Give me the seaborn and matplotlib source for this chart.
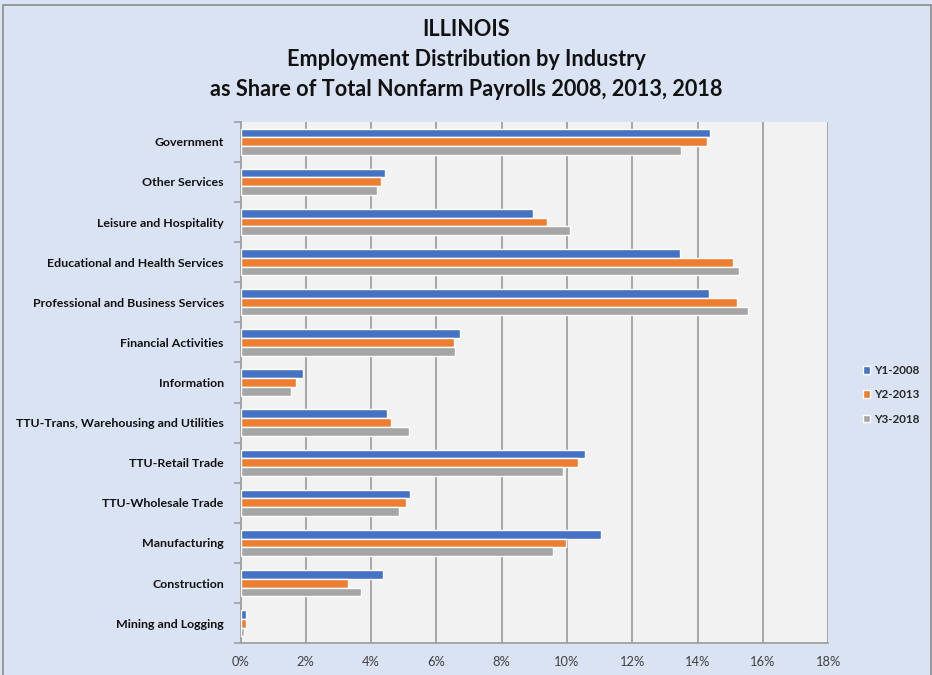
import pandas as pd
import seaborn as sns
import matplotlib.pyplot as plt
from matplotlib.patches import Patch, Rectangle
from matplotlib.ticker import FuncFormatter, FixedLocator

# industries, top to bottom as in the chart
industries = ['Government', 'Other Services', 'Leisure and Hospitality',
              'Educational and Health Services', 'Professional and Business Services',
              'Financial Activities', 'Information', 'TTU-Trans, Warehousing and Utilities',
              'TTU-Retail Trade', 'TTU-Wholesale Trade', 'Manufacturing',
              'Construction', 'Mining and Logging']
years = ['Y1-2008', 'Y2-2013', 'Y3-2018']

# share of total nonfarm payrolls (%)
y2008 = [14.37, 4.44, 8.96, 13.46, 14.34, 6.72, 1.92, 4.49, 10.56, 5.20, 11.04, 4.35, 0.16]
y2013 = [14.28, 4.29, 9.40, 15.08, 15.21, 6.53, 1.70, 4.61, 10.34, 5.07, 9.97, 3.28, 0.16]
y2018 = [13.49, 4.17, 10.09, 15.27, 15.55, 6.57, 1.54, 5.15, 9.87, 4.85, 9.58, 3.69, 0.12]

xticks = [0, 2, 4, 6, 8, 10, 12, 14, 16, 18]
colors = ['#4472c4', '#ed7d31', '#a5a5a5']

df = pd.DataFrame({'industry': industries * 3,
                   'share': y2008 + y2013 + y2018,
                   'year': [y for y in years for _ in industries]})

sns.set_theme(style='white')
plt.rcParams['font.family'] = ['Lato', 'DejaVu Sans']

fig = plt.figure(figsize=(9.32, 6.75), dpi=100)
fig.patch.set_facecolor('#dae3f3')
fig.patches.append(Rectangle((3 / 932, -0.05), 928 / 932, 1.05 - 5 / 675,
                             transform=fig.transFigure, fill=False,
                             edgecolor='#8c8c8c', linewidth=1.2))

ax = fig.add_axes([240.5 / 932, 1 - 643.3 / 675, 587.8 / 932, 521.6 / 675])
ax.set_facecolor('#f2f2f2')

sns.barplot(data=df, y='industry', x='share', hue='year', orient='h',
            palette=colors, saturation=1, width=0.66, order=industries,
            hue_order=years, legend=False, ax=ax, zorder=3)

ax.set_xlim(0, 18)
ax.set_ylim(12.5, -0.5)
ax.xaxis.set_major_locator(FixedLocator(xticks))
ax.xaxis.set_major_formatter(FuncFormatter(lambda v, p: f'{v:.0f}%'))
ax.grid(axis='x', color='#a0a0a0', linewidth=1.3, zorder=0)
ax.set_axisbelow(True)
ax.set_xlabel('')
ax.set_ylabel('')

for s in ['top', 'right']:
    ax.spines[s].set_visible(False)
for s in ['left', 'bottom']:
    ax.spines[s].set_color('#a0a0a0')
    ax.spines[s].set_linewidth(1.3)

ax.tick_params(axis='x', length=4, color='#a0a0a0', labelsize=9.3,
               labelcolor='#404040', pad=5)
ax.tick_params(axis='y', which='major', length=0, pad=12, labelsize=8.9,
               labelcolor='#111111')
for lbl in ax.get_yticklabels():
    lbl.set_fontweight('bold')
ax.set_yticks([i + 0.5 for i in range(-1, 13)], minor=True)
ax.tick_params(axis='y', which='minor', left=True, length=5, color='#a0a0a0', width=1.2)

title_lines = ['ILLINOIS', 'Employment Distribution by Industry',
               'as Share of Total Nonfarm Payrolls 2008, 2013, 2018']
for i, line in enumerate(title_lines):
    fig.text(0.5, 1 - (30 + 30 * i) / 675, line, ha='center', va='center',
             fontsize=15.6, fontweight='bold', color='#111111')

handles = [Patch(facecolor=c, label=y) for c, y in zip(colors, years)]
leg = fig.legend(handles=handles, loc='upper left',
                 bbox_to_anchor=(857 / 932, 1 - 359 / 675), frameon=False,
                 handlelength=0.65, handleheight=0.65, handletextpad=0.35,
                 labelspacing=1.15, borderpad=0, prop={'size': 8.4, 'weight': 'bold'})

fig.savefig('out.png', dpi=100, facecolor=fig.get_facecolor())
